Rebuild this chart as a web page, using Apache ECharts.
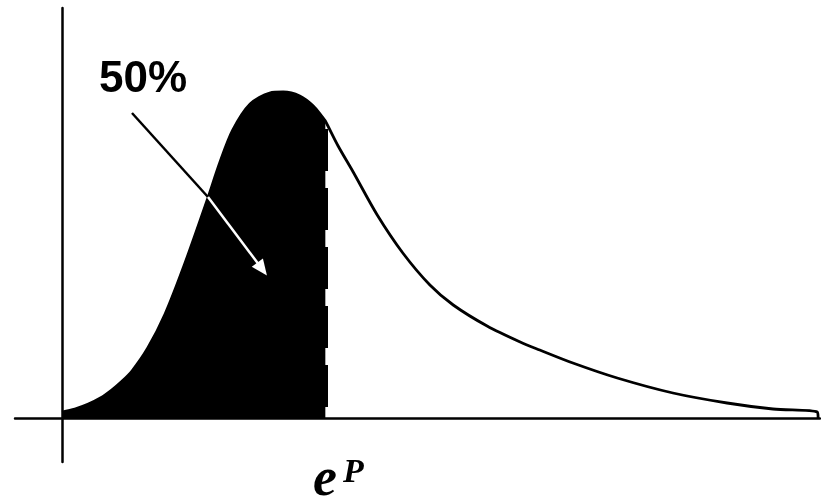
<html>
<head>
    <meta charset="utf-8">
    <title>median of a skewed distribution</title>
    <script src="https://cdn.jsdelivr.net/npm/echarts@6/dist/echarts.min.js"></script>
</head>
<body style="margin:0">
<div id="main" style="width: 821px;height:501px;"></div>
<script type="text/javascript">
    // curve (x, density)
    var xs = [0, 0.17, 0.35, 0.51, 0.66, 0.80, 0.93, 1.14, 1.37, 1.63, 1.93, 2.10, 2.27, 2.50, 2.76, 2.94, 3.16, 3.34, 3.47, 3.50,
              3.67, 3.87, 4.19, 4.53, 4.89, 5.20, 5.65, 6.09, 6.35, 6.79, 7.38, 8.12, 8.84, 9.45, 10.04, 10.05];
    var ys = [0.06, 0.09, 0.14, 0.20, 0.28, 0.37, 0.47, 0.70, 1.04, 1.54, 2.18, 2.56, 2.88, 3.14, 3.25, 3.26, 3.22, 3.12, 3.00, 2.97,
              2.72, 2.46, 2.03, 1.65, 1.33, 1.13, 0.92, 0.76, 0.68, 0.55, 0.40, 0.25, 0.15, 0.09, 0.06, 0];
    var median = 3.5;        // e^P
    var medianHeight = 2.97;
    var areaLabel = '50%';
    // arrow from the label into the shaded half
    var arrowStart = [0.93, 3.05];
    var arrowCross = [1.94, 2.21];
    var arrowEnd = [2.66, 1.49];

    var curve = [];
    var half = [];
    for (var i = 0; i < xs.length; i++) {
        curve.push([xs[i], ys[i]]);
        if (xs[i] <= median) half.push([xs[i], ys[i]]);
    }

    var myChart = echarts.init(document.getElementById('main'));
    myChart.setOption({
        animation: false,
        backgroundColor: '#fff',
        grid: {left: 15, right: 1, top: 8, bottom: 39},
        xAxis: {
            type: 'value', min: -0.625, max: 10.075,
            axisLine: {onZero: true, lineStyle: {color: '#000', width: 2.5}},
            axisTick: {show: false}, axisLabel: {show: false}, splitLine: {show: false}
        },
        yAxis: {
            type: 'value', min: -0.44, max: 4.10,
            axisLine: {show: true, onZero: true, lineStyle: {color: '#000', width: 2.5}},
            axisTick: {show: false}, axisLabel: {show: false}, splitLine: {show: false}
        },
        series: [{
            type: 'line',
            data: half,
            smooth: 0.3,
            showSymbol: false,
            lineStyle: {width: 0},
            areaStyle: {color: '#000', opacity: 1},
            markLine: {
                silent: true,
                symbol: 'none',
                label: {show: false},
                lineStyle: {color: '#000', width: 4, type: [42, 17], dashOffset: 51},
                data: [[{coord: [median, medianHeight]}, {coord: [median, 0]}]]
            }
        }, {
            type: 'line',
            data: curve,
            smooth: 0.3,
            showSymbol: false,
            lineStyle: {color: '#000', width: 2.8},
            z: 3,
            markLine: {
                silent: true,
                symbol: 'none',
                label: {show: false},
                data: [
                    [{coord: arrowStart, lineStyle: {color: '#000', width: 2.5, type: 'solid'}},
                     {coord: arrowCross}],
                    [{coord: arrowCross, lineStyle: {color: '#fff', width: 2.5, type: 'solid'}},
                     {coord: arrowEnd, symbol: 'triangle', symbolSize: [14, 16]}]
                ]
            }
        }],
        graphic: [{
            type: 'text',
            left: 99, top: 58,
            style: {text: areaLabel, fill: '#000', font: 'bold 44px "Liberation Sans", Arial'}
        }, {
            type: 'text',
            left: 313, top: 454,
            style: {text: 'e', fill: '#000', font: 'italic bold 54px "Liberation Serif", serif'}
        }, {
            type: 'text',
            left: 343, top: 456,
            style: {text: 'P', fill: '#000', font: 'italic bold 34px "Liberation Serif", serif'}
        }]
    });
</script>
</body>
</html>
